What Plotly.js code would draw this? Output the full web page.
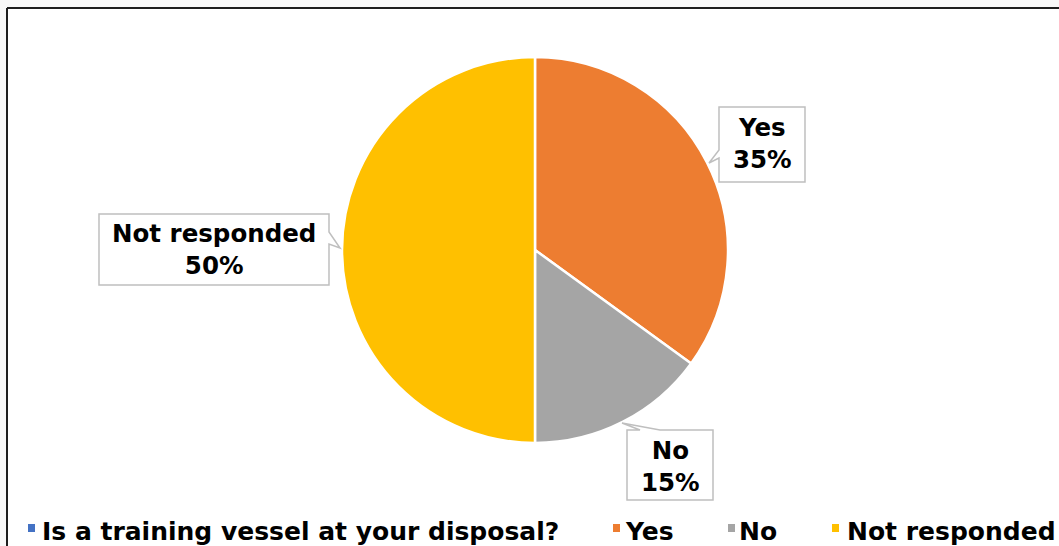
<!DOCTYPE html>
<html>
<head>
<meta charset="utf-8">
<script src="https://cdn.plot.ly/plotly-3.0.1.min.js"></script>
<style>html,body{margin:0;padding:0;background:#fff;}#chart{width:1059px;height:546px;}</style>
</head>
<body>
<div id="chart"></div>
<script>
// ---- data ----
const sliceLabels = ["Yes", "No", "Not responded"];
const sliceValues = [35, 15, 50];
const legendLabels = ["Is a training vessel at your disposal?", "Yes", "No", "Not responded"];

// ---- styles ----
const sliceColors = ["#ED7D31", "#A5A5A5", "#FFC000"];
const legendColors = ["#4472C4", "#ED7D31", "#A5A5A5", "#FFC000"];

const W = 1059, H = 546;
const FONT = "DejaVu Sans, Verdana, sans-serif";
const px = (x) => x / W;
const py = (y) => 1 - y / H;
function path(pts) {
  return "M" + pts.map(p => px(p[0]).toFixed(5) + "," + py(p[1]).toFixed(5)).join(" L") + " Z";
}

// pie geometry (pixels)
const cx = 535, cy = 250, r = 193;

const total = sliceValues.reduce((a, b) => a + b, 0);

const trace = {
  type: "pie",
  labels: sliceLabels,
  values: sliceValues,
  sort: false,
  direction: "clockwise",
  rotation: 0,
  textinfo: "none",
  hoverinfo: "label+percent",
  marker: { colors: sliceColors, line: { color: "#ffffff", width: 2.5 } },
  domain: { x: [px(cx - r), px(cx + r)], y: [py(cy + r), py(cy - r)] },
  showlegend: false
};

// callout boxes (pixel geometry)
const callouts = [
  { idx: 0, cx: 762, cy: 144, pts: [[719,107],[805,107],[805,182],[719,182],[719,158],[709,163],[719,150]] },
  { idx: 2, cx: 214, cy: 250, pts: [[99,214],[329,214],[329,232],[340,248],[329,244],[329,285],[99,285]] },
  { idx: 1, cx: 670, cy: 466, pts: [[627,430],[640,430],[622,423],[660,430],[713,430],[713,500],[627,500]] }
];

const shapes = [];
const annotations = [];

// outer frame and grey outside strip
shapes.push({ type: "rect", xref: "paper", yref: "paper", x0: 0, x1: 1, y0: py(8), y1: 1, fillcolor: "#f8f8f8", line: { width: 0 }, layer: "below" });
shapes.push({ type: "rect", xref: "paper", yref: "paper", x0: 0, x1: px(7), y0: 0, y1: 1, fillcolor: "#f8f8f8", line: { width: 0 }, layer: "below" });
shapes.push({ type: "line", xref: "paper", yref: "paper", x0: px(7), x1: 1, y0: py(8), y1: py(8), line: { color: "#1e1e1e", width: 2 } });
shapes.push({ type: "line", xref: "paper", yref: "paper", x0: px(7), x1: px(7), y0: py(8), y1: 0, line: { color: "#1e1e1e", width: 2 } });

callouts.forEach(c => {
  const i = c.idx;
  shapes.push({ type: "path", xref: "paper", yref: "paper", path: path(c.pts), fillcolor: "#ffffff", line: { color: "#BFBFBF", width: 1.5 } });
  const pct = Math.round(sliceValues[i] / total * 100);
  annotations.push({
    xref: "paper", yref: "paper", x: px(c.cx), y: py(c.cy), xanchor: "center", yanchor: "middle",
    showarrow: false, align: "center",
    text: "<b>" + sliceLabels[i] + "</b><br><b>" + pct + "%</b>",
    font: { family: FONT, size: 24.5, color: "#000000" }
  });
});

// custom legend
const legMarkX = [28, 613, 728, 832];
const legTextX = [40, 623, 737, 845];
legendLabels.forEach((lab, i) => {
  shapes.push({ type: "rect", xref: "paper", yref: "paper", x0: px(legMarkX[i]), x1: px(legMarkX[i] + 7), y0: py(532), y1: py(524), fillcolor: legendColors[i], line: { width: 0 } });
  annotations.push({
    xref: "paper", yref: "paper", x: px(legTextX[i]), y: py(531), xanchor: "left", yanchor: "middle",
    showarrow: false, text: "<b>" + lab + "</b>",
    font: { family: FONT, size: 25, color: "#000000" }
  });
});

const layout = {
  width: W, height: H,
  margin: { l: 0, r: 0, t: 0, b: 0 },
  paper_bgcolor: "#ffffff",
  showlegend: false,
  shapes: shapes,
  annotations: annotations
};

Plotly.newPlot("chart", [trace], layout, { displayModeBar: false, staticPlot: true });
</script>
</body>
</html>
